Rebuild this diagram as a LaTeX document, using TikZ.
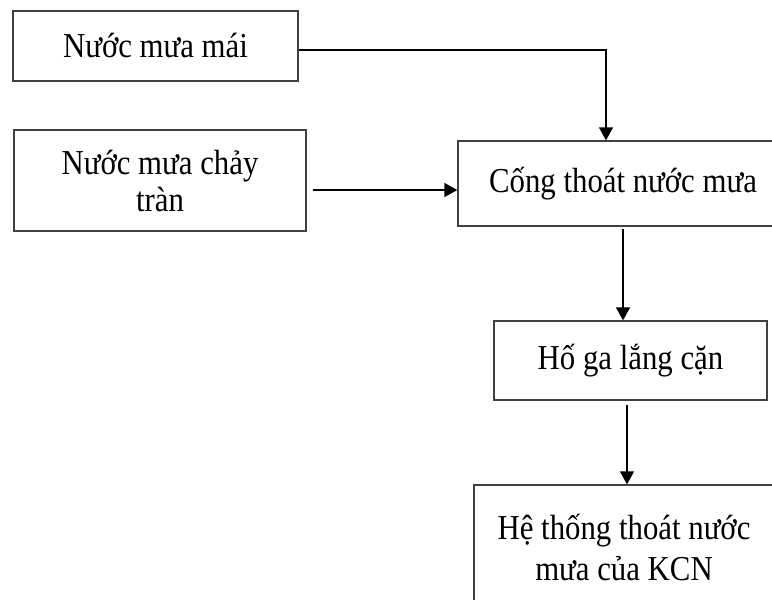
\documentclass[tikz,border=0pt]{standalone}
\usepackage{fontspec}
\usepackage{graphicx}
\setmainfont{Liberation Serif}
\usetikzlibrary{arrows.meta}
\newcommand\sq[1]{\scalebox{0.88}[1]{#1}}
\begin{document}
\begin{tikzpicture}[x=1pt,y=-1pt,
  box/.style={draw=black!75, line width=1.3pt, align=center, inner sep=0pt,
    font=\fontsize{35}{37}\selectfont},
  arr/.style={line width=1.4pt, -{Triangle[width=14pt,length=13pt]}}]
\useasboundingbox (0,0) rectangle (772,600);
\clip (0,0) rectangle (772,600);
\fill[white] (0,0) rectangle (772,600);
\node[box, minimum width=285pt, minimum height=70pt] (b1) at (155.5,46) {\sq{Nước mưa mái}};
\node[box, minimum width=292pt, minimum height=101pt] (b2) at (160,180.5) {\sq{Nước mưa chảy}\\\sq{tràn}};
\node[box, minimum width=330pt, minimum height=85pt] (b3) at (623,183.5) {\sq{Cống thoát nước mưa}};
\node[box, minimum width=273pt, minimum height=79pt] (b4) at (630.5,360.5) {\sq{Hố ga lắng cặn}};
\node[box, minimum width=300pt, minimum height=125pt] (b5) at (624,547.5) {\sq{Hệ thống thoát nước}\\[4pt]\sq{mưa của KCN}};
\coordinate (t) at (606,50);
\coordinate (h) at (0,190);
\coordinate (v1) at (623,0);
\coordinate (v2) at (627,0);
\draw[arr] (b1.east |- t) -- (t) -- (t |- b3.north);
\draw[arr, shorten <=6pt] (b2.east |- h) -- (b3.west |- h);
\draw[arr, shorten <=2pt] (b3.south -| v1) -- (b4.north -| v1);
\draw[arr, shorten <=4pt] (b4.south -| v2) -- (b5.north -| v2);
\end{tikzpicture}
\end{document}
